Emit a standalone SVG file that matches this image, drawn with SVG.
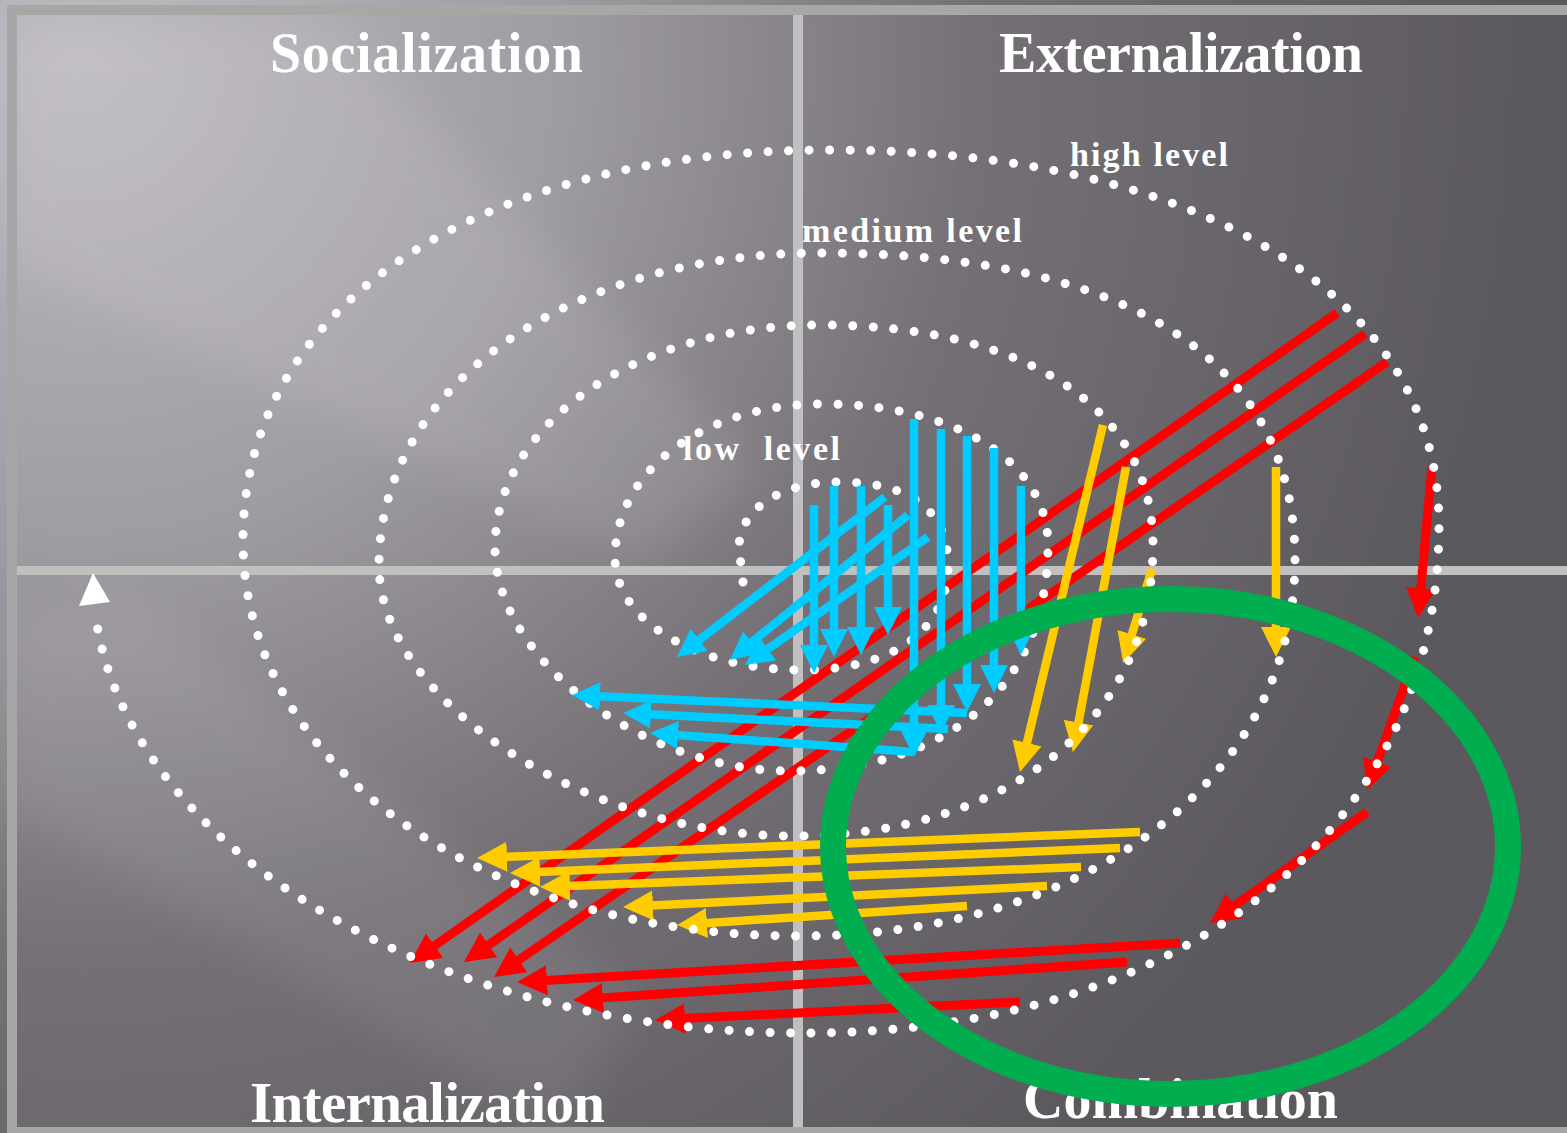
<svg xmlns="http://www.w3.org/2000/svg" width="1567" height="1133" viewBox="0 0 1567 1133">
<style>
.title{font-family:"Liberation Serif","DejaVu Serif",serif;fill:#ffffff;font-size:56px;font-weight:bold}
.lvl{font-family:"Liberation Serif","DejaVu Serif",serif;fill:#ffffff;font-size:34px;font-weight:bold}
.blue{stroke:#00ccff;stroke-width:8.5;fill:none;marker-end:url(#mb)}
.red{stroke:#ff0000;stroke-width:9;fill:none;marker-end:url(#mr)}
.yel{stroke:#ffcc00;stroke-width:8.5;fill:none;marker-end:url(#my)}
.frame{fill:#a7a7a7}
.div{fill:#c0c0c0}
</style>
<defs>
<radialGradient id="bg" gradientUnits="userSpaceOnUse" cx="80" cy="60" r="1450">
<stop offset="0" stop-color="#bdb9c0"/>
<stop offset="0.33" stop-color="#a09ca3"/>
<stop offset="0.62" stop-color="#747076"/>
<stop offset="1" stop-color="#5b585e"/>
</radialGradient>
<filter id="soft" x="-30%" y="-30%" width="160%" height="160%"><feGaussianBlur stdDeviation="22"/></filter>
<marker id="mb" markerUnits="userSpaceOnUse" viewBox="0 -15 30 30" markerWidth="30" markerHeight="30" refX="2" refY="0" orient="auto"><path d="M0,-14 L28,0 L0,14 z" fill="#00ccff"/></marker>
<marker id="mr" markerUnits="userSpaceOnUse" viewBox="0 -16 32 32" markerWidth="32" markerHeight="32" refX="2" refY="0" orient="auto"><path d="M0,-15 L30,0 L0,15 z" fill="#ff0000"/></marker>
<marker id="my" markerUnits="userSpaceOnUse" viewBox="0 -16 32 32" markerWidth="32" markerHeight="32" refX="2" refY="0" orient="auto"><path d="M0,-15 L30,0 L0,15 z" fill="#ffcc00"/></marker>
</defs>

<g id="background">
<rect x="0" y="0" width="1567" height="1133" fill="url(#bg)"/>
<polygon points="0,20 330,20 760,470 640,560 0,260" fill="#ffffff" opacity="0.09" filter="url(#soft)"/>
<polygon points="0,620 140,600 640,1000 560,1133 0,800" fill="#ffffff" opacity="0.07" filter="url(#soft)"/>
</g>

<g id="frame">
<rect class="frame" x="7" y="5" width="1560" height="10"/>
<rect class="frame" x="7" y="5" width="10" height="1128"/>
<rect class="frame" x="7" y="1127" width="1560" height="6"/>
<rect class="div" x="793" y="15" width="10" height="1112"/>
<rect class="div" x="17" y="566" width="1550" height="9"/>
</g>

<g id="titles">
<text id="socialization" class="title" x="270" y="72" textLength="313">Socialization</text>
<text id="externalization" class="title" x="999" y="72" textLength="364">Externalization</text>
<text id="internalization" class="title" x="250" y="1122" textLength="355" style="font-size:57px">Internalization</text>
<text id="combination" class="title" x="1023" y="1118" textLength="315">Combination</text>
</g>

<g id="connectors">
<g id="red-arrows">
<line class="red" x1="1337" y1="313" x2="432.9" y2="946.9"/>
<line class="red" x1="1365" y1="334" x2="487" y2="946"/>
<line class="red" x1="1387" y1="362" x2="517.1" y2="961.1"/>
<line class="red" x1="1180" y1="943" x2="545" y2="980.4"/>
<line class="red" x1="1127" y1="962" x2="601" y2="998.1"/>
<line class="red" x1="1020" y1="1002" x2="683" y2="1018.6"/>
<line class="red" x1="1432" y1="467" x2="1420.6" y2="590.1"/>
<line class="red" x1="1415" y1="657" x2="1376.5" y2="763.7"/>
<line class="red" x1="1367" y1="812" x2="1232.9" y2="906.8"/>
</g>
<g id="yellow-arrows">
<line class="yel" x1="1103" y1="425" x2="1026.5" y2="744.8"/>
<line class="yel" x1="1126" y1="467" x2="1078.1" y2="724.5"/>
<line class="yel" x1="1152" y1="569" x2="1131.3" y2="636.3"/>
<line class="yel" x1="1276" y1="467" x2="1276" y2="629"/>
<line class="yel" x1="1140" y1="832" x2="505" y2="856.9"/>
<line class="yel" x1="1120" y1="848" x2="538" y2="871.9"/>
<line class="yel" x1="1081" y1="867" x2="568" y2="886"/>
<line class="yel" x1="1047" y1="886" x2="651" y2="905.6"/>
<line class="yel" x1="967" y1="906" x2="705" y2="923.2"/>
</g>
<g id="spiral">
<path d="M 743 582 L 739 548 C 739 509.7 780.6 482 838 482 C 910.6 482 948 510.2 948 565 C 948 630.1 892.5 670 802 670 C 697.3 670 615 620.7 615 558 C 615 470.2 704.4 404 823 404 C 955.8 404 1048 461.8 1048 545 C 1048 685 950 771 790 771 C 642.5 771 495 659.5 495 548 C 495 423.1 638 325 820 325 C 1026.5 325 1153 408.6 1153 545 C 1153 719.6 1009 836 793 836 C 586 836 379 700.5 379 565 C 379 387.2 568.6 253 820 253 C 1128.8 253 1295 360.4 1295 560 C 1295 778 1087 936 800 936 C 482.5 936 243 765.7 243 540 C 243 306 477.8 150 830 150 C 1201.5 150 1439 296.2 1439 525 C 1439 829.8 1185.4 1033 805 1033 A 712 458 0 0 1 95 611" fill="none" stroke="#ffffff" stroke-width="9" stroke-linecap="round" stroke-dasharray="0 20.5"/>
<polygon points="93,573 79,606 110,602" fill="#ffffff"/>
</g>
<g id="blue-arrows">
<line class="blue" x1="814" y1="505" x2="814" y2="647"/>
<line class="blue" x1="834" y1="486" x2="834" y2="631"/>
<line class="blue" x1="861" y1="486" x2="861" y2="629"/>
<line class="blue" x1="888" y1="505" x2="888" y2="609"/>
<line class="blue" x1="914" y1="419" x2="914" y2="731"/>
<line class="blue" x1="941" y1="429" x2="941" y2="707"/>
<line class="blue" x1="967" y1="436" x2="967" y2="686"/>
<line class="blue" x1="994" y1="448" x2="994" y2="667"/>
<line class="blue" x1="1021" y1="486" x2="1021" y2="629"/>
<line class="blue" x1="885" y1="497" x2="697.6" y2="641.1"/>
<line class="blue" x1="908" y1="515" x2="750.2" y2="643.6"/>
<line class="blue" x1="928" y1="537" x2="766.3" y2="650.1"/>
<line class="blue" x1="967" y1="713" x2="598" y2="696.2"/>
<line class="blue" x1="948" y1="729" x2="649" y2="714.3"/>
<line class="blue" x1="913" y1="752" x2="676" y2="734.9"/>
</g>
</g>

<g id="levels">
<text id="high-level" class="lvl" x="1070" y="166" textLength="158">high level</text>
<text id="medium-level" class="lvl" x="802" y="242" textLength="220">medium level</text>
<text id="low-level" class="lvl" x="683" y="460" textLength="157" style="white-space:pre">low  level</text>
</g>

<g id="highlight">
<ellipse cx="1170.5" cy="846.5" rx="337.5" ry="247.5" fill="none" stroke="#00ad4f" stroke-width="26"/>
</g>
</svg>
